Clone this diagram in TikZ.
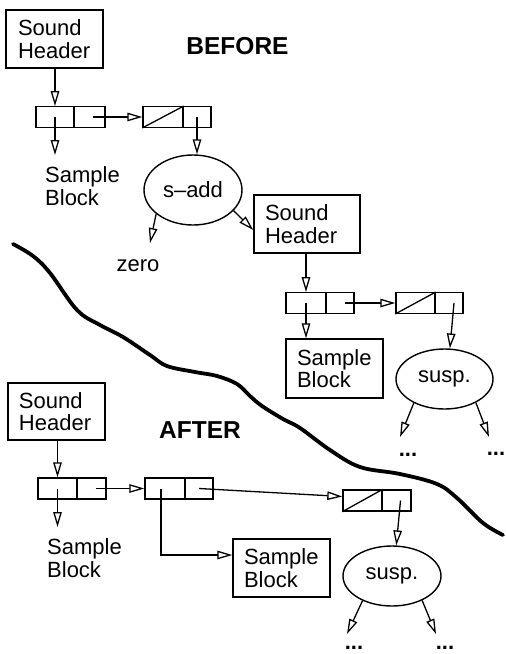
\documentclass[tikz,border=0pt]{standalone}
\usepackage{fontspec}
\setmainfont{Liberation Sans}
\usetikzlibrary{arrows.meta,shapes.geometric,calc}
\begin{document}
\begin{tikzpicture}[x=1pt,y=-1pt,
  every node/.style={font=\fontsize{22}{22.5}\selectfont},
  box/.style={draw, line width=1.4pt, align=left, inner xsep=11pt, inner ysep=0pt},
  cell/.style={draw, line width=1.4pt, minimum height=20.5pt, inner sep=0pt},
  oval/.style={draw, ellipse, line width=1.4pt, inner sep=0pt},
  lbl/.style={align=left, inner sep=0pt},
  title/.style={font=\fontsize{24.5}{26}\bfseries\selectfont, inner sep=0pt},
  dots/.style={font=\fontsize{22}{22}\bfseries\selectfont, inner sep=0pt, anchor=base},
  arr/.style={line width=1.3pt, -{Triangle[open, length=15pt, width=8.5pt]}},
  slash/.style={line width=1.3pt},
  wave/.style={line width=3.8pt, line cap=round}
]
\useasboundingbox (0,0) rectangle (506,654);

% ---------- BEFORE ----------
\node[box, text width=73pt, inner xsep=12pt, minimum height=58pt] (sh1) at (54.5,39) {Sound\\Header};
\node[title] (before) at (237.5,46.5) {BEFORE};

\node[cell, minimum width=38pt] (a1) at (55,117) {};
\node[cell, minimum width=31pt] (a2) at (89.5,117) {};
\node[cell, minimum width=40pt] (b1) at (163,117) {};
\node[cell, minimum width=28pt] (b2) at (197,117) {};
\draw[slash] (b1.south west) -- (b1.north east);

\node[lbl, anchor=west] (sbt1) at (45,186) {Sample\\Block};
\coordinate (t1) at (55,155);

\node[oval, minimum width=98pt, minimum height=70pt] (sadd) at (193,190) {s--add};
\node (zero) at (138,266) {zero};
\coordinate (z1) at (150,243);

\node[box, text width=84pt, minimum height=58pt] (sh2) at (307,224) {Sound\\Header};

\node[cell, minimum width=40pt] (c1) at (306,303) {};
\node[cell, minimum width=28pt] (c2) at (340,303) {};
\node[cell, minimum width=39pt] (d1) at (415.5,303) {};
\node[cell, minimum width=28pt] (d2) at (449,303) {};
\draw[slash] (d1.south west) -- (d1.north east);

\node[box, text width=75pt, minimum height=59pt] (sb2) at (334.5,368.5) {Sample\\Block};
\node[oval, minimum width=97pt, minimum height=60pt] (susp1) at (444.5,379) {susp.};
\coordinate (e1) at (400,437);
\coordinate (e2) at (489,437);
\node[dots] (dd1) at (408,456) {...};
\node[dots] (dd2) at (496,455) {...};

\draw[arr] (sh1.south -| a1.north) -- (a1.north);
\draw[arr] (a1.center) -- (t1);
\draw[arr] ([xshift=3pt]a2.center) -- (b1.west);
\draw[arr] (b2.center) -- (b2.center |- sadd.north);
\draw[arr] (sadd.213) -- (z1);
\draw[arr] (sadd.-27) -- ([yshift=-6pt]sh2.west);
\draw[arr] (sh2.south -| c1.north) -- (c1.north);
\draw[arr] (c1.center) -- (c1.center |- sb2.north);
\draw[arr] ([xshift=5pt]c2.center) -- (d1.west);
\draw[arr] ([xshift=5pt]d2.center) -- (susp1.80);
\draw[arr] (susp1.218) -- (e1);
\draw[arr] (susp1.-37) -- (e2);

% ---------- divider ----------
\draw[wave] plot[smooth, tension=0.6] coordinates {
  (13,244) (33,256) (50,273) (77,310) (100,325) (123,337) (150,355) (167,366)
  (195,372) (217,376) (237,384) (250,396) (262,406) (283,419) (300,428)
  (330,450) (360,467) (400,474) (437,484) (457,498) (483,523) (503,535)};

% ---------- AFTER ----------
\node[box, text width=75pt, minimum height=57pt] (sh3) at (56.5,411.5) {Sound\\Header};
\node[title] (after) at (200,430) {AFTER};

\node[cell, minimum width=39pt, minimum height=21pt] (f1) at (57.5,488.5) {};
\node[cell, minimum width=29pt, minimum height=21pt] (f2) at (91.5,488.5) {};
\node[cell, minimum width=40pt, minimum height=21pt] (g1) at (165,488.5) {};
\node[cell, minimum width=28pt, minimum height=21pt] (g2) at (199,488.5) {};
\node[cell, minimum width=39pt, minimum height=21pt] (h1) at (362.5,500.5) {};
\node[cell, minimum width=29pt, minimum height=21pt] (h2) at (396.5,500.5) {};
\draw[slash] (h1.south west) -- (h1.north east);

\node[lbl, anchor=west] (sbt3) at (47,558) {Sample\\Block};
\coordinate (t3) at (57.5,527);

\node[box, text width=75pt, minimum height=58pt] (sb3) at (281.5,568) {Sample\\Block};
\node[oval, minimum width=98pt, minimum height=60pt] (susp2) at (392,576) {susp.};
\coordinate (k1) at (347,634);
\coordinate (k2) at (436,634);
\node[dots] (dd3) at (354,649.5) {...};
\node[dots] (dd4) at (445,649.5) {...};

\draw[arr] (sh3.south -| f1.north) -- (f1.north);
\draw[arr] (f1.center) -- (t3);
\draw[arr] ([xshift=4pt]f2.center) -- (g1.west);
\draw[arr] ([xshift=-4pt]g1.center) |- ([yshift=13pt]sb3.west);
\draw[arr] (g2.center) -- ([yshift=4pt]h1.west);
\draw[arr] ([xshift=4pt]h2.center) -- (susp2.82);
\draw[arr] (susp2.220) -- (k1);
\draw[arr] (susp2.-39) -- (k2);
\end{tikzpicture}
\end{document}
